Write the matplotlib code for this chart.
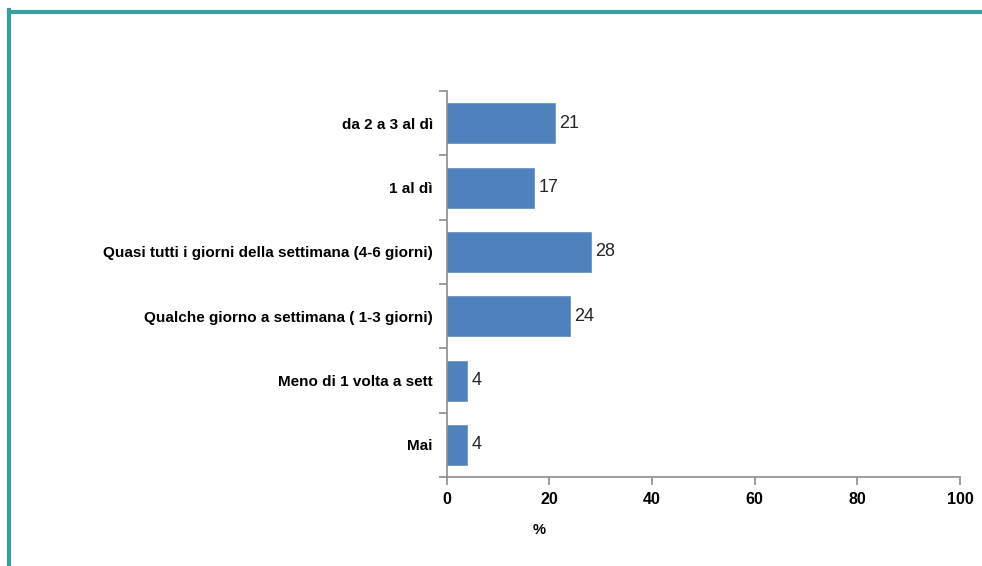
import matplotlib
matplotlib.use("Agg")
import matplotlib.pyplot as plt
from matplotlib.lines import Line2D

categories = [
    "da 2 a 3 al dì",
    "1 al dì",
    "Quasi tutti i giorni della settimana (4-6 giorni)",
    "Qualche giorno a settimana ( 1-3 giorni)",
    "Meno di 1 volta a sett",
    "Mai",
]
values = [21, 17, 28, 24, 4, 4]
xticks = [0, 20, 40, 60, 80, 100]

BAR = "#4F81BD"
AXIS = "#8C8C8C"
TEAL = "#3A9E9A"

plt.rcParams["font.family"] = ["Liberation Sans", "DejaVu Sans"]

fig = plt.figure(figsize=(9.82, 5.66), dpi=100)
ax = fig.add_axes([0.455, 0.157, 0.5226, 0.682])

ypos = list(range(len(categories)))[::-1]
ax.barh(ypos, values, height=0.62, color=BAR, edgecolor="#6C95C8", linewidth=0.6)
for y, v in zip(ypos, values):
    ax.text(v + 0.9, y, str(v), va="center", ha="left", fontsize=13, color="#262626")

ax.set_xlim(0, 100)
ax.set_ylim(-0.5, len(categories) - 0.5)
ax.set_xticks(xticks)
ax.set_xticklabels([str(t) for t in xticks], fontsize=11.5, fontweight="bold")
ax.set_yticks(ypos)
ax.set_yticklabels(categories, fontsize=11, fontweight="bold")

# ticks on the y axis sit between categories
ax.set_yticks([i - 0.5 for i in range(len(categories) + 1)], minor=True)
ax.tick_params(axis="y", which="major", length=0, pad=10)
ax.tick_params(axis="y", which="minor", length=6, color=AXIS, width=1.2)
ax.tick_params(axis="x", length=6, color=AXIS, width=1.2, pad=5)

for s in ["top", "right"]:
    ax.spines[s].set_visible(False)
for s in ["left", "bottom"]:
    ax.spines[s].set_color(AXIS)
    ax.spines[s].set_linewidth(1.2)

fig.text(0.549, 0.063, "%", ha="center", va="center", fontsize=10.5, fontweight="bold")

# frame lines along the top and left edges
fig.add_artist(Line2D([0.009, 1.0], [0.9795, 0.9795], transform=fig.transFigure,
                      color=TEAL, linewidth=3))
fig.add_artist(Line2D([0.0095, 0.0095], [0.0, 0.982], transform=fig.transFigure,
                      color=TEAL, linewidth=3))

fig.savefig("out.png", dpi=100)
